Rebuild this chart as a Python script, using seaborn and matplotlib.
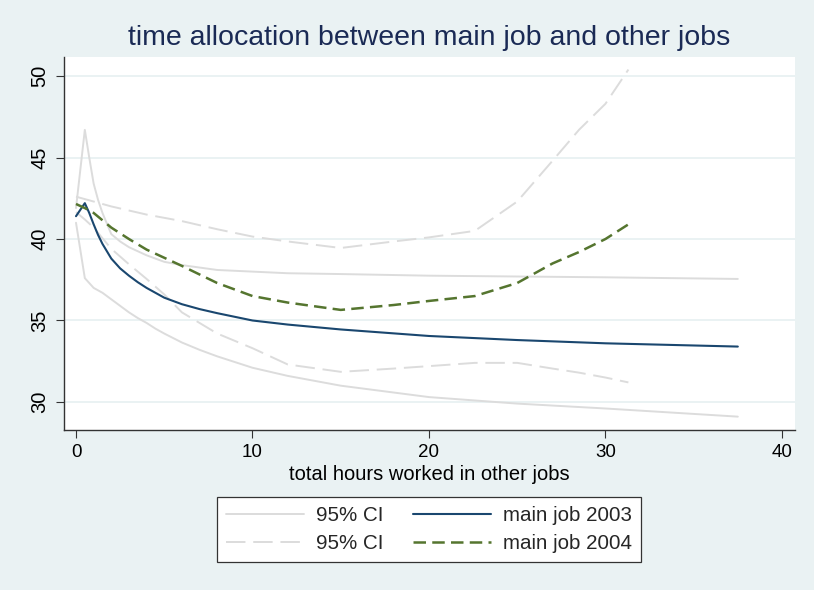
import matplotlib
matplotlib.use("Agg")
import matplotlib.pyplot as plt
import seaborn as sns

# data
x03 = [0, 0.5, 0.75, 1, 1.25, 1.5, 2, 2.5, 3, 3.5, 4, 4.5, 5, 6, 7, 8, 10, 12, 15,
       20, 25, 30, 37.5]
main03 = [41.4, 42.2, 41.6, 40.9, 40.25, 39.7, 38.8, 38.2, 37.75, 37.35, 37.0, 36.7,
          36.4, 36.0, 35.7, 35.45, 35.0, 34.75, 34.45, 34.05, 33.8, 33.6, 33.4]
ci03_hi = [41.9, 46.7, 45.0, 43.4, 42.4, 41.6, 40.3, 39.85, 39.5, 39.25, 39.0, 38.8,
           38.6, 38.4, 38.25, 38.1, 38.0, 37.9, 37.85, 37.75, 37.7, 37.65, 37.55]
ci03_lo = [41.0, 37.6, 37.3, 37.0, 36.85, 36.7, 36.3, 35.9, 35.5, 35.15, 34.85, 34.5,
           34.2, 33.65, 33.2, 32.8, 32.1, 31.6, 31.0, 30.3, 29.9, 29.6, 29.1]

x04 = [0, 0.5, 1, 2, 3, 4, 5, 6, 8, 10, 12, 15, 18, 20, 22.6, 25, 27, 28.5, 30, 31.3]
main04 = [42.15, 41.9, 41.6, 40.7, 40.0, 39.35, 38.85, 38.35, 37.3, 36.5, 36.1,
          35.65, 35.95, 36.2, 36.5, 37.3, 38.5, 39.2, 40.0, 40.9]
ci04_hi = [42.6, 42.45, 42.3, 42.0, 41.75, 41.5, 41.3, 41.1, 40.6, 40.15, 39.85,
           39.45, 39.85, 40.1, 40.5, 42.3, 44.8, 46.7, 48.3, 50.4]
ci04_lo = [41.65, 41.2, 40.7, 39.4, 38.45, 37.55, 36.6, 35.5, 34.2, 33.3, 32.3,
           31.85, 32.05, 32.2, 32.4, 32.4, 32.05, 31.8, 31.5, 31.2]

x_ticks = [0, 10, 20, 30, 40]
y_ticks = [30, 35, 40, 45, 50]

bg = "#EAF2F3"
navy = "#1A476F"
green = "#55752F"
ci_grey = "#DCDCDC"

sns.set_theme(style="ticks")
plt.rcParams["font.family"] = ["Liberation Sans", "DejaVu Sans"]

fig = plt.figure(figsize=(8.14, 5.90), dpi=100, facecolor=bg)
ax = fig.add_axes([64 / 814, 1 - 430 / 590, (795 - 64) / 814, (430 - 57) / 590])
ax.set_facecolor("white")

sns.lineplot(x=x03, y=ci03_hi, ax=ax, color=ci_grey, linewidth=1.4, sort=False, estimator=None)
h_ci03 = ax.lines[-1]
sns.lineplot(x=x03, y=ci03_lo, ax=ax, color=ci_grey, linewidth=1.4, sort=False, estimator=None)
sns.lineplot(x=x04, y=ci04_hi, ax=ax, color=ci_grey, linewidth=1.4, sort=False,
             estimator=None, linestyle=(0, (10, 4)))
h_ci04 = ax.lines[-1]
sns.lineplot(x=x04, y=ci04_lo, ax=ax, color=ci_grey, linewidth=1.4, sort=False,
             estimator=None, linestyle=(0, (10, 4)))
sns.lineplot(x=x03, y=main03, ax=ax, color=navy, linewidth=1.5, sort=False, estimator=None)
h_m03 = ax.lines[-1]
sns.lineplot(x=x04, y=main04, ax=ax, color=green, linewidth=1.8, sort=False,
             estimator=None, linestyle=(0, (5, 2.5)))
h_m04 = ax.lines[-1]

ax.set_xlim(-0.68, 40.74)
ax.set_ylim(28.28, 51.17)
ax.set_xticks(x_ticks)
ax.set_yticks(y_ticks)
ax.grid(axis="y", color=bg, linewidth=1.4)
ax.grid(axis="x", visible=False)
ax.set_axisbelow(True)

for side in ["top", "right"]:
    ax.spines[side].set_visible(False)
for side in ["left", "bottom"]:
    ax.spines[side].set_color("#333333")
    ax.spines[side].set_linewidth(1.0)

ax.tick_params(axis="both", length=5.8, width=0.8, color="#333333",
               labelsize=13.5, labelcolor="black", pad=4)
ax.tick_params(axis="y", labelrotation=90, labelsize=14.5, pad=5)
for lbl in ax.get_yticklabels():
    lbl.set_va("center")

ax.set_xlabel("total hours worked in other jobs", fontsize=14.5, color="black", labelpad=3)
ax.set_ylabel("")
fig.text(429 / 814, 1 - 38 / 590, "time allocation between main job and other jobs",
         ha="center", va="center", fontsize=20.5, color="#1A2A55")

leg = fig.legend([h_ci03, h_ci04, h_m03, h_m04],
                 ["95% CI", "95% CI", "main job 2003", "main job 2004"],
                 ncol=2, loc="center", bbox_to_anchor=(429 / 814, 1 - 529.5 / 590),
                 fontsize=14.8, frameon=True, fancybox=False, framealpha=1,
                 edgecolor="#333333", handlelength=3.8, handletextpad=0.6,
                 columnspacing=1.4, labelspacing=0.45, borderpad=0.45)
leg.get_frame().set_linewidth(0.9)

fig.savefig("out.png", dpi=100, facecolor=bg)
